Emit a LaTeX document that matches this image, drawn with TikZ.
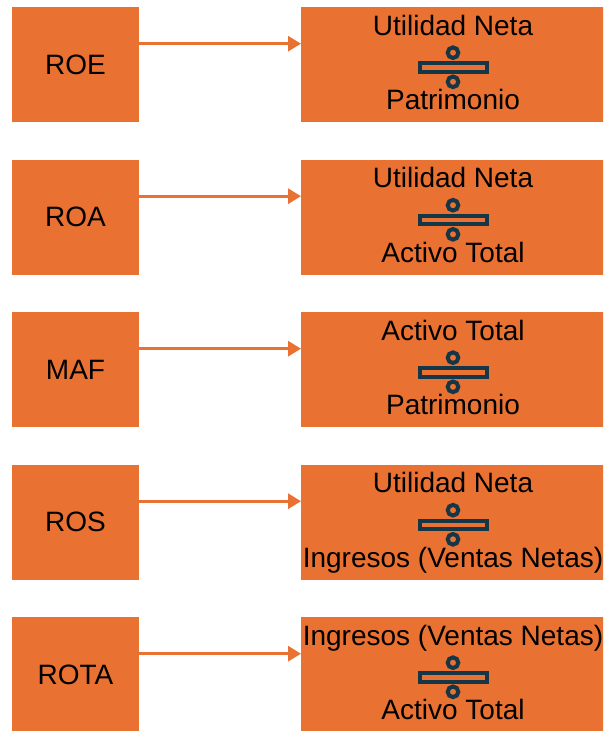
\documentclass[tikz,border=0pt]{standalone}
\usepackage{fontspec}
\setmainfont{Liberation Sans}
\usetikzlibrary{arrows.meta}
\definecolor{orng}{HTML}{E97132}
\definecolor{divc}{HTML}{153647}
\begin{document}
\begin{tikzpicture}[x=1pt,y=-1pt,
 lbox/.style={fill=orng, minimum width=127pt, minimum height=115pt, inner sep=0pt, outer sep=0pt, font=\fontsize{28}{32}\selectfont},
 rbox/.style={fill=orng, minimum width=304pt, minimum height=115pt, inner sep=0pt, outer sep=0pt},
 ratio/.style={font=\fontsize{28}{32}\selectfont, anchor=base, inner sep=0pt},
 arr/.style={draw=orng, line width=3pt, -{Triangle[length=13pt,width=15pt]}},
 divsym/.style={draw=divc, line width=4pt}]
\useasboundingbox (0,0) rectangle (603,731);
\clip (0,0) rectangle (603,731);
\foreach \i/\lab/\num/\den in {0/ROE/{Utilidad Neta}/Patrimonio,
  1/ROA/{Utilidad Neta}/{Activo Total},
  2/MAF/{Activo Total}/Patrimonio,
  3/ROS/{Utilidad Neta}/{Ingresos (Ventas Netas)},
  4/ROTA/{Ingresos (Ventas Netas)}/{Activo Total}}{
  \node[lbox] (l\i) at (75.5, 64.5+152.5*\i) {\lab};
  \node[rbox] (r\i) at (453, 64.5+152.5*\i) {};
  \draw[arr] ([shift={(0,-20.8)}]l\i.east) -- ([shift={(0,-20.8)}]r\i.west);
  \node[ratio] (n\i) at ([shift={(0,-29.5)}]r\i.center) {\num};
  \node[ratio] (d\i) at ([shift={(0,45)}]r\i.center) {\den};
  \draw[divsym] ([shift={(-33.5,-1.5)}]r\i.center) rectangle ([shift={(33.5,7)}]r\i.center);
  \draw[divsym] ([shift={(0,-11.8)}]r\i.center) circle[radius=5.3pt];
  \draw[divsym] ([shift={(0,17.3)}]r\i.center) circle[radius=5.3pt];
}
\end{tikzpicture}
\end{document}
